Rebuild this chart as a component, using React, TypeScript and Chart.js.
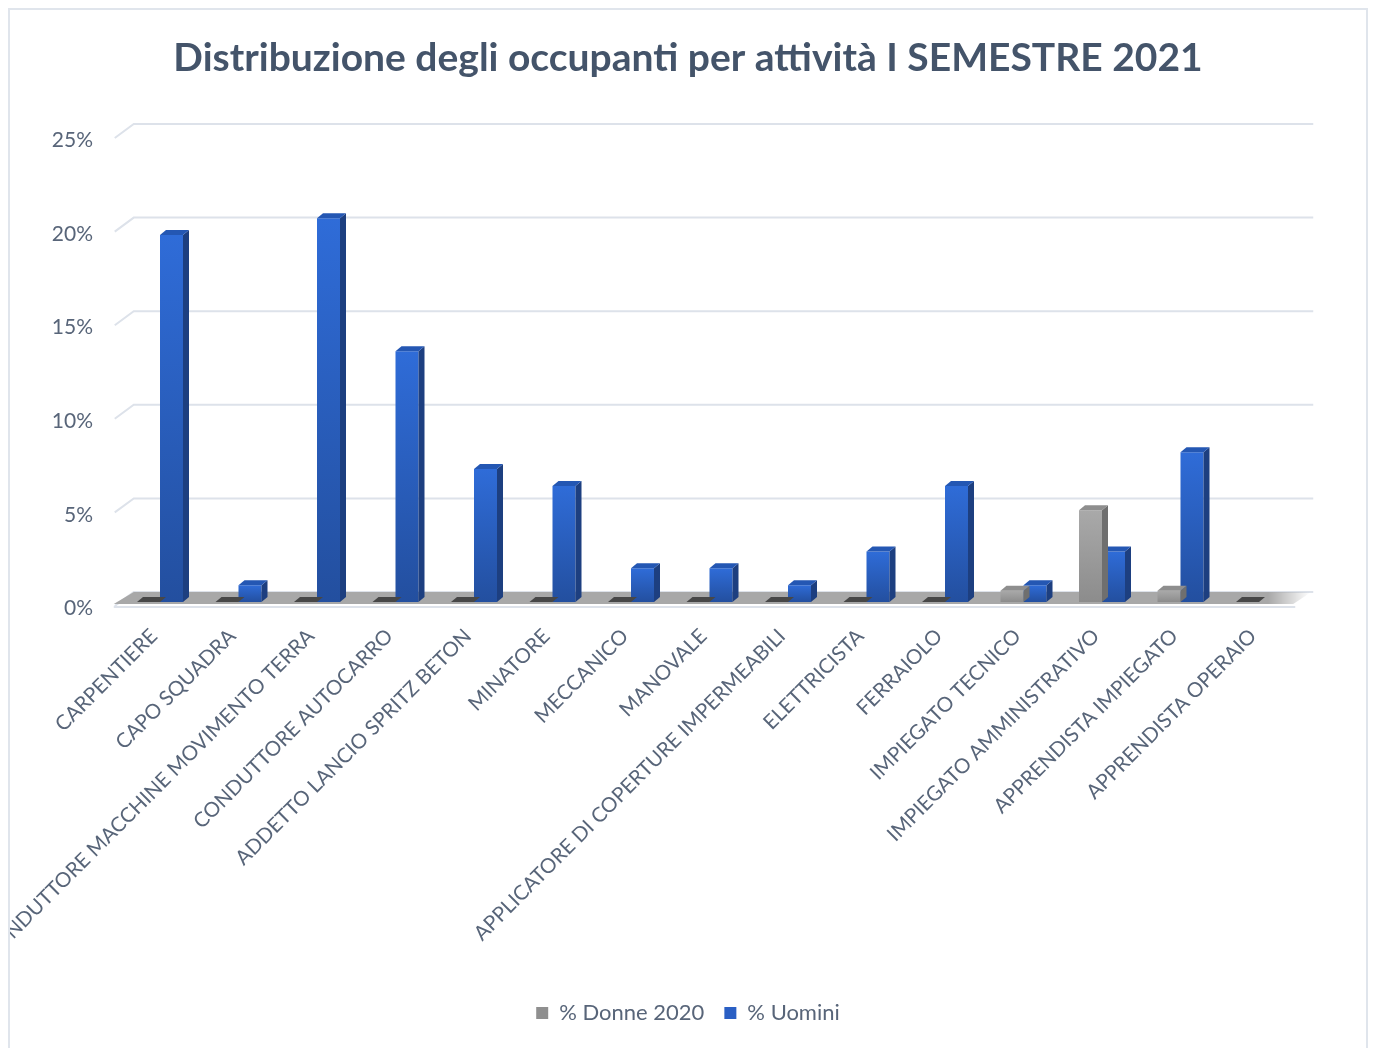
import React, { useEffect, useRef } from "react";
import { Chart, registerables } from "chart.js";

Chart.register(...registerables);

const categories = [
  "CARPENTIERE",
  "CAPO SQUADRA",
  "CONDUTTORE MACCHINE MOVIMENTO TERRA",
  "CONDUTTORE AUTOCARRO",
  "ADDETTO LANCIO SPRITZ BETON",
  "MINATORE",
  "MECCANICO",
  "MANOVALE",
  "APPLICATORE DI COPERTURE IMPERMEABILI",
  "ELETTRICISTA",
  "FERRAIOLO",
  "IMPIEGATO TECNICO",
  "IMPIEGATO AMMINISTRATIVO",
  "APPRENDISTA IMPIEGATO",
  "APPRENDISTA OPERAIO",
];
const donne2020 = [0, 0, 0, 0, 0, 0, 0, 0, 0, 0, 0, 0.6, 4.9, 0.6, 0];
const uomini = [19.6, 0.9, 20.5, 13.4, 7.1, 6.2, 1.8, 1.8, 0.9, 2.7, 6.2, 0.9, 2.7, 8.0, 0];
const yTicks = [0, 5, 10, 15, 20, 25];
const seriesNames = ["% Donne 2020", "% Uomini"];
const titleText = "Distribuzione degli occupanti per attività I SEMESTRE 2021";

const FONT = "Lato, 'Open Sans', sans-serif";
const TEXT = "#586579";
const GRID = "#dde2ea";

// depth offsets of the 3D look
const BDX = 6, BDY = 5; // bar depth
const WALL_BACK = { dx: 13, dy: -10 };
const WALL_FRONT = { dx: -6, dy: 4 };

const palettes = [
  { top: "#a9a9a9", bottom: "#8c8c8c", side: "#6f6f6f", cap: "#8e8e8e", zero: "#474747" },
  { top: "#2f6cd8", bottom: "#234f9f", side: "#1d3f80", cap: "#2457b3", zero: null as string | null },
];

function frontFill(ds: number) {
  return (c: any) => {
    const p = palettes[ds];
    const chart = c.chart;
    const y = chart.scales && chart.scales.y;
    if (!y || c.type !== "data" || !chart.chartArea) return p.top;
    const top = y.getPixelForValue(c.raw as number);
    const base = y.getPixelForValue(0);
    if (base - top < 1) return p.top;
    const g = chart.ctx.createLinearGradient(0, top, 0, base);
    g.addColorStop(0, p.top);
    g.addColorStop(1, p.bottom);
    return g;
  };
}

const bar3d = {
  id: "bar3d",
  beforeDatasetsDraw(chart: any) {
    const { ctx, chartArea } = chart;
    const y = chart.scales.y;
    const L = chartArea.left, R = chartArea.right;
    const b = y.getPixelForValue(0);
    ctx.save();
    ctx.strokeStyle = GRID;
    ctx.lineWidth = 2;
    for (const v of yTicks) {
      const p = y.getPixelForValue(v);
      ctx.beginPath();
      ctx.moveTo(L + WALL_FRONT.dx, p + WALL_FRONT.dy);
      ctx.lineTo(L + WALL_BACK.dx, p + WALL_BACK.dy);
      ctx.lineTo(R + WALL_BACK.dx + 2, p + WALL_BACK.dy);
      ctx.stroke();
    }
    ctx.beginPath();
    ctx.moveTo(L + WALL_FRONT.dx - 1, b + WALL_FRONT.dy + 1);
    ctx.lineTo(R - 3, b + WALL_FRONT.dy + 1);
    ctx.stroke();
    const g = ctx.createLinearGradient(R - 30, 0, R + 12, 0);
    g.addColorStop(0, "#a8a8a8");
    g.addColorStop(1, "rgba(168,168,168,0)");
    ctx.fillStyle = g;
    ctx.beginPath();
    ctx.moveTo(L + WALL_BACK.dx, b + WALL_BACK.dy);
    ctx.lineTo(R + WALL_BACK.dx, b + WALL_BACK.dy);
    ctx.lineTo(R - 5, b + 2);
    ctx.lineTo(L + WALL_FRONT.dx - 1, b + 2);
    ctx.closePath();
    ctx.fill();
    ctx.restore();
  },
  afterDatasetDraw(chart: any, args: any) {
    const { ctx } = chart;
    const meta = args.meta;
    const p = palettes[args.index];
    const data = chart.data.datasets[args.index].data;
    ctx.save();
    meta.data.forEach((el: any, i: number) => {
      const { x, y, base, width } = el.getProps(["x", "y", "base", "width"], true);
      const l = x - width / 2, r = x + width / 2;
      const v = data[i] as number;
      if (v <= 0) {
        if (!p.zero) return;
        ctx.fillStyle = p.zero;
        ctx.beginPath();
        ctx.moveTo(l, base);
        ctx.lineTo(l + BDX, base - BDY);
        ctx.lineTo(r + BDX, base - BDY);
        ctx.lineTo(r, base);
        ctx.closePath();
        ctx.fill();
        return;
      }
      ctx.fillStyle = p.side;
      ctx.beginPath();
      ctx.moveTo(r, y);
      ctx.lineTo(r + BDX, y - BDY);
      ctx.lineTo(r + BDX, base - BDY);
      ctx.lineTo(r, base);
      ctx.closePath();
      ctx.fill();
      ctx.fillStyle = p.cap;
      ctx.beginPath();
      ctx.moveTo(l, y);
      ctx.lineTo(l + BDX, y - BDY);
      ctx.lineTo(r + BDX, y - BDY);
      ctx.lineTo(r, y);
      ctx.closePath();
      ctx.fill();
    });
    ctx.restore();
  },
};

export default function App() {
  const ref = useRef<HTMLCanvasElement | null>(null);
  useEffect(() => {
    if (!ref.current) return;
    const chart = new Chart(ref.current, {
      type: "bar",
      data: {
        labels: categories,
        datasets: [
          {
            label: seriesNames[0],
            data: donne2020,
            backgroundColor: frontFill(0),
            borderWidth: 0,
            categoryPercentage: 0.586,
            barPercentage: 1,
          },
          {
            label: seriesNames[1],
            data: uomini,
            backgroundColor: frontFill(1),
            borderWidth: 0,
            categoryPercentage: 0.586,
            barPercentage: 1,
          },
        ],
      },
      options: {
        animation: false,
        responsive: false,
        maintainAspectRatio: false,
        layout: { padding: { left: 0, right: 0, top: 0, bottom: 16 } },
        plugins: {
          tooltip: { enabled: false },
          title: {
            display: true,
            text: titleText,
            color: "#44546a",
            font: { family: FONT, size: 39, weight: "bold" },
            padding: { top: 24.6, bottom: 52.6 },
          },
          legend: {
            position: "bottom",
            labels: {
              color: TEXT,
              font: { family: FONT, size: 22 },
              boxWidth: 12,
              boxHeight: 12,
              padding: 20,
              generateLabels: () => [
                { text: seriesNames[0], fillStyle: "#8f8f8f", strokeStyle: "#8f8f8f", lineWidth: 0, datasetIndex: 0, fontColor: TEXT },
                { text: seriesNames[1], fillStyle: "#2a5fc4", strokeStyle: "#2a5fc4", lineWidth: 0, datasetIndex: 1, fontColor: TEXT },
              ] as any,
            },
          },
        },
        scales: {
          x: {
            grid: { display: false, drawTicks: false },
            border: { display: false },
            ticks: {
              autoSkip: false,
              maxRotation: 45,
              minRotation: 45,
              color: TEXT,
              font: { family: FONT, size: 20.5 },
              padding: 22,
              labelOffset: -6,
            },
            afterFit: (s: any) => {
              s.height = 380;
            },
          },
          y: {
            min: 0,
            max: 25,
            grid: { display: false, drawTicks: false },
            border: { display: false },
            ticks: {
              stepSize: 5,
              color: TEXT,
              font: { family: FONT, size: 21 },
              padding: 27.75,
              labelOffset: 6.5,
              callback: (v: any) => `${v}%`,
            },
            afterFit: (s: any) => {
              s.width = 110.75;
            },
          },
          yR: {
            position: "right",
            display: true,
            grid: { display: false, drawTicks: false },
            border: { display: false },
            ticks: { display: false },
            afterFit: (s: any) => {
              s.width = 67.75;
            },
          },
        },
      },
      plugins: [bar3d],
    });
    return () => chart.destroy();
  }, []);
  return (
    <div
      style={{
        width: 1356,
        height: 1040,
        border: "2px solid #e0e5ec",
        background: "#ffffff",
        overflow: "hidden",
      }}
    >
      <canvas ref={ref} width={1356} height={1040} style={{ display: "block" }} />
    </div>
  );
}
